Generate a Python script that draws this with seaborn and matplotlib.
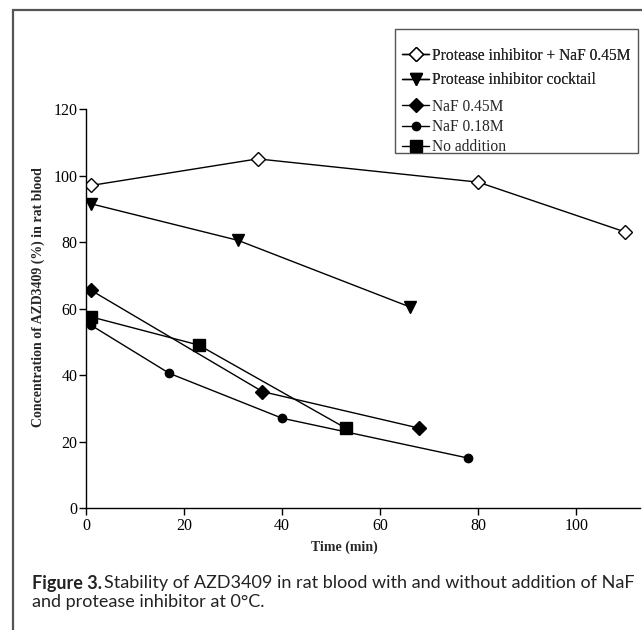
import pandas as pd
import matplotlib.pyplot as plt
import seaborn as sns
from matplotlib.patches import Rectangle

# data
pi_naf_time = [1, 35, 80, 110]
pi_naf_conc = [97, 105, 98, 83]

pi_time = [1, 31, 66]
pi_conc = [91.5, 80.5, 60.5]

naf45_time = [1, 36, 68]
naf45_conc = [65.5, 35, 24]

naf18_time = [1, 17, 40, 78]
naf18_conc = [55, 40.5, 27, 15]

none_time = [1, 23, 53]
none_conc = [57.5, 49, 24]

labels = ["Protease inhibitor + NaF 0.45M", "Protease inhibitor cocktail",
          "NaF 0.45M", "NaF 0.18M", "No addition"]

series = [
    (pi_naf_time, pi_naf_conc, "D", "white", 7.5),
    (pi_time, pi_conc, "v", "black", 9),
    (naf45_time, naf45_conc, "D", "black", 7.5),
    (naf18_time, naf18_conc, "o", "black", 6),
    (none_time, none_conc, "s", "black", 8.5),
]


def main():
    sns.set_style("ticks")
    plt.rcParams["font.family"] = ["Liberation Serif", "DejaVu Serif"]

    fig = plt.figure(figsize=(6.42, 6.30), dpi=100)
    ax = fig.add_axes([86 / 642, 1 - 508 / 630, (640 - 86) / 642, (508 - 109) / 630])

    handles = []
    for (t, c, m, fc, ms), lab in zip(series, labels):
        df = pd.DataFrame({"time": t, "conc": c})
        sns.lineplot(data=df, x="time", y="conc", ax=ax, color="black", linewidth=1.0,
                     marker=m, markersize=ms, markerfacecolor=fc, markeredgecolor="black",
                     markeredgewidth=1.0, label=lab, legend=False)
        handles.append(ax.lines[-1])

    ax.set_xlim(0, 113)
    ax.set_ylim(0, 120)
    ax.set_xticks(range(0, 101, 20))
    ax.set_yticks(range(0, 121, 20))
    ax.tick_params(axis="both", direction="out", length=5, width=1, labelsize=11.5, colors="black")
    ax.tick_params(axis="y", pad=1)
    ax.tick_params(axis="x", pad=2.5)
    for s in ["top", "right"]:
        ax.spines[s].set_visible(False)
    for s in ["left", "bottom"]:
        ax.spines[s].set_linewidth(1.0)
        ax.spines[s].set_color("black")

    ax.set_xlabel("Time (min)", fontsize=10, fontweight="bold")
    ax.set_ylabel("Concentration of AZD3409 (%) in rat blood", fontsize=10, fontweight="bold")
    ax.xaxis.set_label_coords((344.5 - 86) / 554, (508 - 541) / 399)
    ax.yaxis.set_label_coords(-(86 - 45) / 554, 0.528)

    # legend: two groups inside one box
    leg_kw = dict(frameon=False, fontsize=11.2, handlelength=1.75, handletextpad=0.15,
                  borderpad=0, borderaxespad=0, loc="center left")
    leg1 = fig.legend(handles[:2], labels[:2], bbox_to_anchor=(402 / 642, 1 - 68 / 630),
                      labelspacing=0.55, **leg_kw)
    fig.legend(handles[2:], labels[2:], bbox_to_anchor=(402 / 642, 1 - 127 / 630),
               labelspacing=0.28, **leg_kw)
    fig.add_artist(leg1)
    fig.patches.append(Rectangle((395 / 642, 1 - 153.3 / 630), (637.7 - 395) / 642, (153.3 - 29.3) / 630,
                                 transform=fig.transFigure, fill=False,
                                 edgecolor="#555555", linewidth=1.0))

    # outer frame of the figure panel
    fig.patches.append(Rectangle((13 / 642, -0.1), 1.2, 1 - 10 / 630 + 0.1,
                                 transform=fig.transFigure, fill=False,
                                 edgecolor="#555555", linewidth=1.6))

    cap_font = ["Lato", "DejaVu Sans"]
    fig.text(32 / 642, 1 - 583 / 630, "Figure 3.", fontsize=13, fontweight="bold",
             family=cap_font, color="#222222", va="center")
    fig.text(104 / 642, 1 - 583 / 630,
             "Stability of AZD3409 in rat blood with and without addition of NaF",
             fontsize=13, family=cap_font, color="#222222", va="center")
    fig.text(32 / 642, 1 - 602 / 630, "and protease inhibitor at 0°C.",
             fontsize=13, family=cap_font, color="#222222", va="center")

    plt.savefig("out.png", dpi=100)


if __name__ == "__main__":
    main()
